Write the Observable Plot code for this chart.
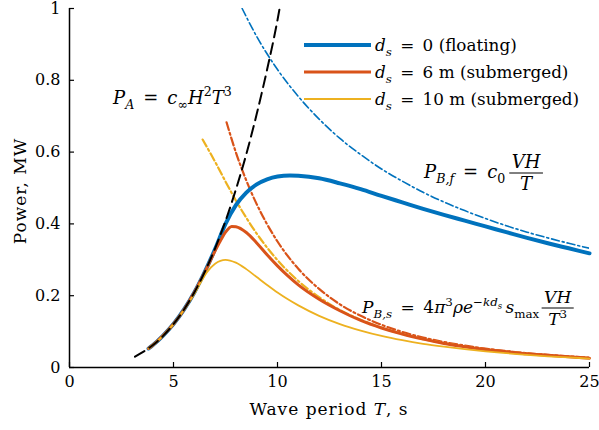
<!DOCTYPE html>
<html>
<head>
<meta charset="utf-8">
<script src="https://cdn.jsdelivr.net/npm/d3@7"></script>
<script src="https://cdn.jsdelivr.net/npm/@observablehq/plot@0.6"></script>
<style>
  html, body { margin: 0; padding: 0; background: #fff; }
  #chart svg { display: block; }
</style>
</head>
<body>
<div id="chart"></div>
<script>
// ---- Data ----
const xTicks = [0, 5, 10, 15, 20, 25];
const yTicks = [0, 0.2, 0.4, 0.6, 0.8, 1];

// Solid curves
const T_float = [3.8,4,4.5,5,5.5,6,6.5,7,7.5,8,8.5,9,9.5,10,10.6,11,12,13,14,15,16,17,18,19,20,21,22,23,24,25];
const P_float = [0.053,0.062,0.089,0.121,0.161,0.209,0.266,0.330,0.400,0.452,0.487,0.510,0.524,0.532,0.535,0.534,0.527,0.513,0.497,0.478,0.460,0.442,0.425,0.409,0.393,0.377,0.361,0.346,0.332,0.318];

const T_sub6 = [3.8,4,4.5,5,5.5,6,6.5,7,7.3,7.5,7.8,8,8.5,9,9.5,10,10.5,11,12,13,14,15,16,17,18,19,20,21,22,23,24,25];
const P_sub6 = [0.053,0.062,0.089,0.121,0.161,0.209,0.265,0.325,0.358,0.377,0.393,0.392,0.376,0.347,0.314,0.283,0.255,0.230,0.190,0.158,0.131,0.110,0.093,0.079,0.067,0.058,0.050,0.044,0.038,0.034,0.030,0.026];

const T_sub10 = [3.8,4,4.5,5,5.5,6,6.3,6.6,7,7.5,8,8.5,9,9.5,10,10.5,11,12,13,14,15,16,17,18,19,20,21,22,23,24,25];
const P_sub10 = [0.053,0.062,0.089,0.121,0.160,0.205,0.236,0.265,0.289,0.300,0.292,0.274,0.252,0.230,0.209,0.190,0.173,0.144,0.121,0.103,0.088,0.076,0.066,0.058,0.051,0.045,0.040,0.035,0.031,0.028,0.025];

// P_A (black dashed)
const T_A = [3.15,3.5,4,4.5,5,5.5,6,6.5,7,7.5,8,8.5,9,9.5,10,10.1];
const P_A = [0.030,0.042,0.062,0.088,0.121,0.161,0.209,0.266,0.332,0.408,0.496,0.594,0.706,0.830,0.968,1.0];

// P_B,f (blue dash-dot)
const T_Bf = [8.3,9,10,11,12,13,14,15,16,17,18,19,20,21,22,23,24,25];
const P_Bf = [1.0,0.922,0.830,0.755,0.692,0.638,0.593,0.553,0.519,0.488,0.461,0.437,0.415,0.395,0.377,0.361,0.346,0.332];

// P_B,s for ds = 6 m (orange dash-dot)
const T_Bs6 = [7.55,8,8.5,9,9.5,10,11,12,13,14,15,16,17,18,19,20,21,22,23,24,25];
const P_Bs6 = [0.683,0.599,0.521,0.455,0.399,0.351,0.275,0.219,0.176,0.144,0.119,0.099,0.0837,0.0711,0.061,0.0526,0.0457,0.0399,0.0351,0.031,0.0276];

// P_B,s for ds = 10 m (yellow dash-dot)
const T_Bs10 = [6.4,7,7.5,8,8.5,9,9.5,10,11,12,13,14,15,16,17,18,19,20,21,22,23,24,25];
const P_Bs10 = [0.635,0.573,0.518,0.465,0.417,0.373,0.334,0.299,0.241,0.196,0.160,0.133,0.111,0.0933,0.0792,0.0677,0.0583,0.0505,0.0441,0.0386,0.034,0.0301,0.0268];

const legendLabels = ["0 (floating)", "6 m (submerged)", "10 m (submerged)"];

// ---- Styles ----
const BLUE = "#0072BD", ORANGE = "#D95319", YELLOW = "#EDB120";
const FONT = "'DejaVu Serif', 'Liberation Serif', serif";
const FS = 16;
const MFS = 17;
const EQ = "\u2002=\u2002";
const DASHDOT = "8,3,2,3";

const zip = (T, P) => T.map((t, i) => ({T: t, P: P[i]}));

const plot = Plot.plot({
  width: 599,
  height: 430,
  marginLeft: 69,
  marginRight: 10,
  marginTop: 8,
  marginBottom: 63,
  style: {fontFamily: FONT, fontSize: FS + "px", color: "#000", background: "#fff", overflow: "visible"},
  x: {domain: [0, 25]},
  y: {domain: [0, 1]},
  marks: [
    Plot.line(zip(T_Bf, P_Bf), {x: "T", y: "P", stroke: BLUE, strokeWidth: 1.6, strokeDasharray: DASHDOT, curve: "monotone-x", clip: true}),
    Plot.line(zip(T_Bs6, P_Bs6), {x: "T", y: "P", stroke: ORANGE, strokeWidth: 2.2, strokeDasharray: DASHDOT, curve: "monotone-x", clip: true}),
    Plot.line(zip(T_Bs10, P_Bs10), {x: "T", y: "P", stroke: YELLOW, strokeWidth: 2.2, strokeDasharray: DASHDOT, curve: "monotone-x", clip: true}),
    Plot.line(zip(T_float, P_float), {x: "T", y: "P", stroke: BLUE, strokeWidth: 4, curve: "monotone-x"}),
    Plot.line(zip(T_sub6, P_sub6), {x: "T", y: "P", stroke: ORANGE, strokeWidth: 3, curve: "monotone-x"}),
    Plot.line(zip(T_sub10, P_sub10), {x: "T", y: "P", stroke: YELLOW, strokeWidth: 1.8, curve: "monotone-x"}),
    Plot.line(zip(T_A, P_A), {x: "T", y: "P", stroke: "#000", strokeWidth: 2, strokeDasharray: "11,6", curve: "monotone-x", clip: true}),
    Plot.axisX({ticks: xTicks, tickSize: -5, tickPadding: 13, tickFormat: d => String(d), label: null, stroke: "#000", strokeWidth: 1.2}),
    Plot.axisY({ticks: yTicks, tickSize: -5, tickPadding: 14, tickFormat: d => String(d), label: null, stroke: "#000", strokeWidth: 1.2}),
    Plot.ruleY([0], {stroke: "#000", strokeWidth: 1.5}),
    Plot.ruleX([0], {stroke: "#000", strokeWidth: 1.5})
  ]
});

document.getElementById("chart").appendChild(plot);

const svg = d3.select(plot);
const sx = plot.scale("x"), sy = plot.scale("y");

// Axis titles
svg.append("text")
  .attr("x", sx.apply(12.5)).attr("y", 415)
  .attr("text-anchor", "middle").attr("font-family", FONT).attr("font-size", 17).attr("letter-spacing", 1).attr("fill", "#000")
  .call(t => { t.append("tspan").text("Wave period "); t.append("tspan").attr("font-style", "italic").text("T"); t.append("tspan").text(", s"); });

svg.append("text")
  .attr("transform", `translate(26,${sy.apply(0.49)}) rotate(-90)`)
  .attr("text-anchor", "middle").attr("font-family", FONT).attr("font-size", 17).attr("letter-spacing", 1).attr("fill", "#000")
  .text("Power, MW");

// Math text helper: parts = [[text, kind]], kind: r, i, sub, subi, sup, supi, supsub
function mathText(x, y, parts, size = MFS) {
  const t = svg.append("text").attr("x", x).attr("y", y)
    .attr("text-anchor", "start")
    .attr("font-family", FONT).attr("font-size", size).attr("fill", "#000")
    .style("white-space", "pre");
  let offset = 0;
  for (const [s, kind] of parts) {
    let target = 0, fs = size, italic = false;
    if (kind === "i") italic = true;
    if (kind === "sub" || kind === "subi") { target = 0.28 * size; fs = 0.7 * size; italic = kind === "subi"; }
    if (kind === "sup" || kind === "supi") { target = -0.42 * size; fs = 0.7 * size; italic = kind === "supi"; }
    if (kind === "supsub") { target = -0.25 * size; fs = 0.5 * size; italic = true; }
    const ts = t.append("tspan").attr("dy", target - offset).attr("font-size", fs).text(s);
    if (italic) ts.attr("font-style", "italic");
    offset = target;
  }
  return t;
}
function fraction(x0, barY, num, den, size = MFS) {
  const n = svg.append("text").attr("y", barY - 5).attr("text-anchor", "middle")
    .attr("font-family", FONT).attr("font-size", size).attr("fill", "#000");
  num(n);
  const d = svg.append("text").attr("y", barY + 17).attr("text-anchor", "middle")
    .attr("font-family", FONT).attr("font-size", size).attr("fill", "#000");
  den(d);
  const w = Math.max(n.node().getComputedTextLength(), d.node().getComputedTextLength()) + 5;
  const cx = x0 + w / 2;
  n.attr("x", cx); d.attr("x", cx);
  svg.append("line").attr("x1", cx - w / 2).attr("x2", cx + w / 2).attr("y1", barY).attr("y2", barY)
    .attr("stroke", "#000").attr("stroke-width", 1);
  return w;
}

// P_A annotation
mathText(113, 104, [["P","i"],["A","subi"],[EQ,"r"],["c","i"],["∞","sub"],["H","i"],["2","sup"],["T","i"],["3","sup"]], 18);

// P_B,f annotation
const a2 = mathText(424, 178, [["P","i"],["B,f","subi"],[EQ,"r"],["c","i"],["0","sub"]], 18);
{
  const bb = a2.node().getBBox();
  fraction(bb.x + bb.width + 4, 173,
    n => n.append("tspan").attr("font-style", "italic").text("VH"),
    d => d.append("tspan").attr("font-style", "italic").text("T"), 18);
}

// P_B,s annotation
const a3 = mathText(362, 313, [["P","i"],["B,s","subi"],[EQ + "4","r"],["π","i"],["3","sup"],["ρe","i"],["−kd","supi"],["s","supsub"],["\u2009s","i"],["max","sub"]]);
{
  const bb = a3.node().getBBox();
  fraction(bb.x + bb.width + 2, 308,
    n => n.append("tspan").attr("font-style", "italic").text("VH"),
    d => { d.append("tspan").attr("font-style", "italic").text("T"); d.append("tspan").attr("dy", -7).attr("font-size", MFS * 0.7).text("3"); });
}

// Legend
const legend = [[BLUE, 4, legendLabels[0]], [ORANGE, 3, legendLabels[1]], [YELLOW, 1.8, legendLabels[2]]];
legend.forEach(([c, w, lab], i) => {
  const y = 45 + i * 27;
  svg.append("line").attr("x1", 304).attr("x2", 371).attr("y1", y).attr("y2", y).attr("stroke", c).attr("stroke-width", w);
  mathText(375, y + 6, [["d","i"],["s","subi"],[EQ + lab,"r"]], 16.8);
});
</script>
</body>
</html>
